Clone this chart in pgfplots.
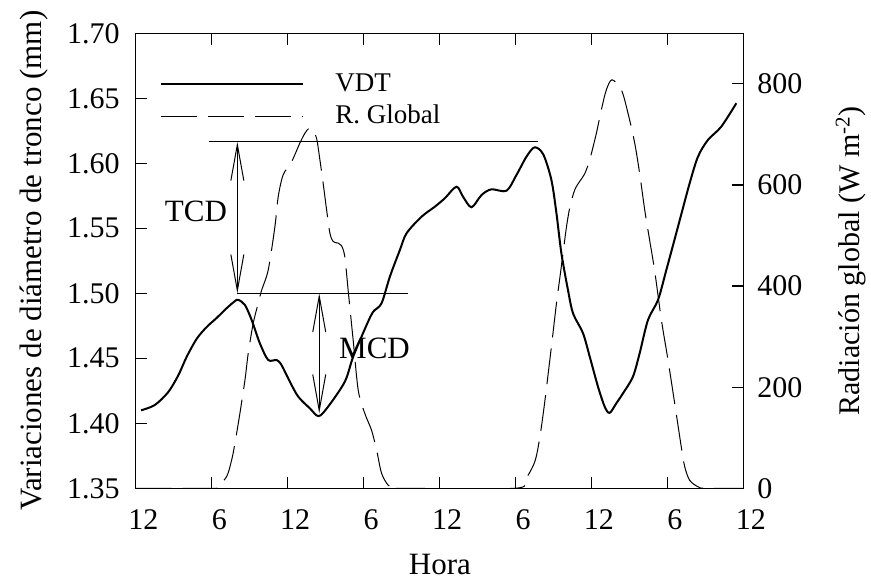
\documentclass[border=0pt]{standalone}
\usepackage{fontspec}
\setmainfont{Liberation Serif}
\usepackage{pgfplots}
\usepackage{pgfplotstable}
\pgfplotsset{compat=1.18}
\usetikzlibrary{arrows.meta}

\pgfplotstableread{
h v
0.42 1.410
1.5 1.414
2.57 1.424
3.37 1.437
4.02 1.451
4.82 1.465
5.6 1.474
6.39 1.481
7.18 1.4885
7.84 1.494
8.1 1.495
8.63 1.491
9.16 1.4795
9.81 1.4615
10.47 1.4487
11.13 1.4487
11.52 1.4448
12.18 1.432
12.84 1.4205
13.76 1.4115
14.45 1.4055
15.2 1.4128
16.52 1.432
17.18 1.4512
18.24 1.4756
18.76 1.4858
19.42 1.4923
20.08 1.5128
20.87 1.5333
21.4 1.5462
22.58 1.5589
23.63 1.5666
24.42 1.5731
25.34 1.582
25.86 1.5743
26.53 1.5662
27.32 1.5756
28.1 1.58
29.29 1.5789
30.08 1.591
30.87 1.6051
31.52 1.6123
32.2 1.6068
32.84 1.5872
33.24 1.5615
33.63 1.5308
34.15 1.5025
34.55 1.4846
35.34 1.4692
35.87 1.4512
36.52 1.4282
37.05 1.4128
37.44 1.408
37.97 1.4154
38.5 1.4231
39.28 1.4358
39.81 1.4538
40.47 1.4795
41.26 1.4948
41.92 1.5179
42.84 1.5512
43.76 1.5846
44.42 1.6051
45.2 1.6179
46.26 1.6282
47.45 1.6462
}\vdt

\pgfplotstableread{
h r
0 0
6.0 0
6.39 2
7.18 23
7.58 56
7.84 89
8.23 148
8.63 214
8.89 267
9.28 326
9.68 366
9.95 392
10.47 432
11.0 518
11.26 577
11.65 620
12.32 646
12.97 683
13.36 702
13.68 712
13.95 710
14.29 692
14.55 650
14.81 603
15.08 551
15.34 505
15.6 488
16.0 485
16.26 480
16.52 458
16.79 390
17.18 293
17.58 194
18.1 148
18.63 115
19.03 76
19.42 30
19.95 6
20.47 1
21 0
29.9 0
30.73 16
31.52 52
31.92 100
32.31 170
32.84 280
33.24 366
33.5 415
33.76 465
34.02 515
34.29 555
34.68 590
35.1 608
35.47 622
35.87 650
36.39 702
36.79 749
37.18 788
37.63 808
38.37 788
38.89 742
39.42 683
39.81 623
40.21 551
40.6 491
41.0 430
41.53 333
42.05 254
42.58 168
43.1 82
43.37 43
43.76 16
44.42 3
45 0
48 0
}\rad

\begin{document}
\begin{tikzpicture}[font=\fontsize{15}{17}\selectfont]
\begin{axis}[
  at={(0,0)}, anchor=south west,
  scale only axis, width=303.8pt, height=227.5pt,
  xmin=0, xmax=48, ymin=1.35, ymax=1.70,
  xtick={0,6,...,48}, xticklabels={12,6,12,6,12,6,12,6,12},
  ytick={1.35,1.40,1.45,1.50,1.55,1.60,1.65,1.70},
  /pgf/number format/assume math mode=true,
  yticklabel style={xshift=-4.5pt, /pgf/number format/.cd, fixed, fixed zerofill, precision=2},
  xticklabel style={xshift=3.8pt, yshift=-7pt},
  xtick pos=both, ytick pos=left, tick align=inside,
  major tick length=5.75pt,
  axis line style={line width=0.6pt},
  every tick/.style={line width=0.6pt, black},
  xlabel={Hora},
  xlabel style={at={(axis description cs:0.5008,-0.1905)}, anchor=base, font=\fontsize{15.5}{18}\selectfont},
  ylabel={Variaciones de diámetro de tronco (mm)},
  ylabel style={at={(axis description cs:-0.155,0.5)}, anchor=base, font=\fontsize{15.5}{18}\selectfont},
  legend style={draw=none, fill=none, at={(axis description cs:0.030,0.93)}, anchor=north west,
    font=\fontsize{13.5}{15}\selectfont, row sep=1.5pt,
    /tikz/every odd column/.append style={column sep=13.5pt}},
  legend cell align=left,
  legend image code/.code={\draw[#1] (0pt,0pt) -- (71pt,0pt);},
]
\addplot[black, line width=1pt, smooth, tension=0.5] table[x=h, y=v] {\vdt};
\addlegendentry{VDT}
\addlegendimage{black, line width=0.5pt, dash pattern=on 18pt off 5.5pt}
\addlegendentry{R. Global}
\draw[line width=0.5pt] (axis cs:5.79,1.6165) -- (axis cs:31.78,1.6165);
\draw[line width=0.5pt] (axis cs:8.02,1.50) -- (axis cs:21.52,1.50);
\draw[line width=0.5pt, {Straight Barb[length=18pt,width=6.5pt]}-{Straight Barb[length=18pt,width=6.5pt]}] (axis cs:8.03,1.6165) -- (axis cs:8.03,1.50);
\draw[line width=0.5pt, {Straight Barb[length=18pt,width=6.5pt]}-{Straight Barb[length=18pt,width=6.5pt]}] (axis cs:14.5,1.50) -- (axis cs:14.5,1.4077);
\node[font=\fontsize{15.5}{18}\selectfont] at (axis cs:4.76,1.5633) {TCD};
\node[font=\fontsize{15.5}{18}\selectfont] at (axis cs:18.87,1.4573) {MCD};
\end{axis}
\begin{axis}[
  at={(0,0)}, anchor=south west,
  scale only axis, width=303.8pt, height=227.5pt,
  xmin=0, xmax=48, ymin=0, ymax=900,
  axis y line*=right, axis x line=none,
  ytick={0,200,400,600,800},
  /pgf/number format/assume math mode=true,
  yticklabel style={xshift=3.5pt},
  tick align=inside, major tick length=5.75pt,
  axis line style={line width=0.6pt},
  every tick/.style={line width=0.6pt, black},
  ylabel={Radiación global (W m\textsuperscript{-2})},
  ylabel style={at={(axis description cs:1.192,0.5)}, anchor=base, rotate=0, font=\fontsize{15}{18}\selectfont},
]
\addplot[black, line width=0.5pt, smooth, tension=0.5, dash pattern=on 18pt off 5.5pt] table[x=h, y=r] {\rad};
\end{axis}
\pgfresetboundingbox
\useasboundingbox (-67.85pt,-47.35pt) rectangle (367.65pt,244.15pt);
\end{tikzpicture}
\end{document}
